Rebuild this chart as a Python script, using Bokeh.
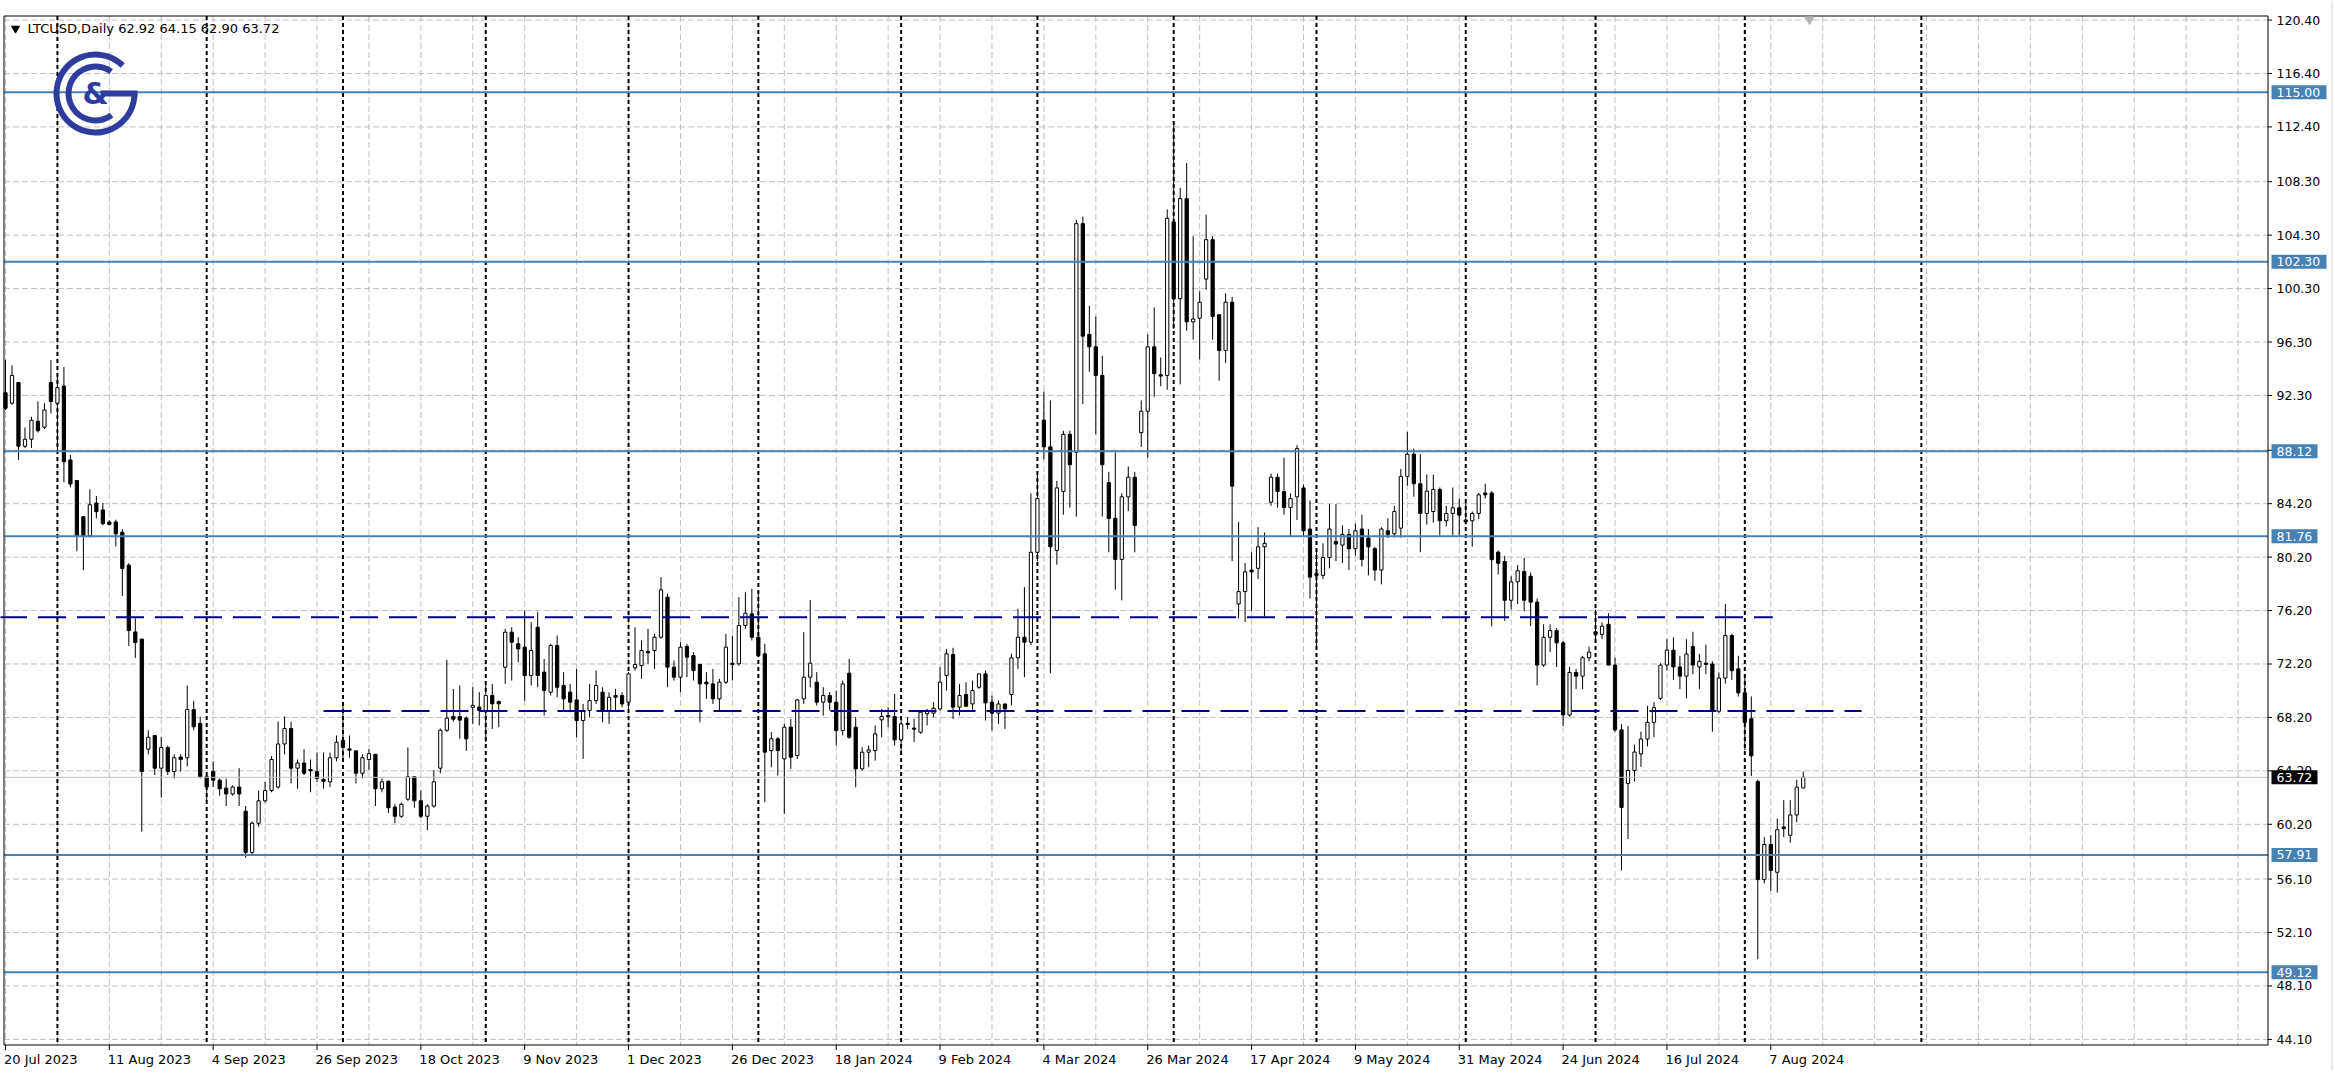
import datetime as dt
from bokeh.plotting import figure
from bokeh.models import Range1d, ColumnDataSource
from bokeh.core.properties import value
from bokeh.embed import file_html
from bokeh.resources import INLINE

# ---------------- data (daily bars, weekdays only) ----------------
opens = [92.50, 91.72, 93.27, 88.50, 89.02, 90.38, 89.92, 93.27, 91.72, 93.00,
         87.47, 85.93, 83.22, 81.80, 84.25, 83.73, 82.83, 82.83, 82.06, 79.60,
         74.60, 74.07, 65.82, 66.85, 64.40, 65.95, 64.15, 65.23, 65.18, 68.79,
         67.75, 63.76, 64.15, 63.50, 62.91, 62.47, 62.99, 61.18, 58.09, 60.28,
         61.96, 62.73, 62.99, 66.21, 67.37, 64.40, 64.79, 64.30, 64.15, 63.57,
         63.38, 65.18, 66.47, 65.85, 65.70, 64.02, 65.05, 65.44, 62.86, 63.42,
         61.49, 60.80, 62.08, 63.76, 61.96, 60.80, 61.57, 64.40, 67.24, 68.27,
         68.27, 68.14, 68.95, 68.97, 68.72, 69.84, 69.39, 71.96, 74.58, 73.71,
         73.46, 71.34, 74.95, 71.59, 70.09, 73.58, 70.59, 70.09, 69.51, 67.97,
         68.72, 69.46, 70.09, 68.72, 69.84, 69.84, 69.34, 71.91, 72.08, 73.14,
         73.21, 74.20, 77.20, 71.96, 71.21, 73.51, 72.83, 72.16, 70.84, 70.71,
         69.59, 70.84, 72.26, 72.21, 75.08, 75.95, 74.20, 72.96, 65.72, 66.60,
         65.10, 67.47, 65.35, 69.59, 71.21, 70.84, 69.34, 69.84, 69.34, 67.22,
         71.51, 67.47, 64.35, 65.60, 65.72, 68.02, 68.34, 68.27, 66.52, 67.77,
         67.40, 67.09, 68.47, 68.52, 68.84, 71.34, 72.91, 68.97, 69.91, 69.21,
         70.46, 71.46, 69.34, 68.52, 69.21, 69.91, 72.66, 74.20, 73.83, 80.56,
         90.46, 88.45, 80.70, 85.11, 89.39, 88.05, 105.16, 96.87, 95.94, 93.80,
         85.78, 83.10, 80.03, 84.71, 86.18, 89.52, 91.12, 95.94, 93.85, 93.80,
         105.29, 99.54, 107.03, 97.81, 98.08, 101.01, 103.96, 98.34, 95.67, 99.28,
         76.69, 77.62, 79.23, 79.36, 80.97, 84.31, 86.18, 85.11, 83.91, 84.71,
         85.38, 82.30, 78.96, 78.83, 80.17, 81.37, 81.10, 81.90, 80.83, 82.30,
         81.63, 80.83, 79.23, 82.17, 81.95, 82.37, 86.24, 87.90, 85.69, 83.47,
         83.61, 85.27, 82.92, 83.47, 83.89, 82.98, 82.92, 83.47, 85.00, 85.00,
         80.57, 79.87, 76.97, 78.35, 79.13, 78.77, 76.83, 72.12, 74.20, 74.70,
         73.78, 68.38, 71.57, 71.29, 72.67, 74.61, 74.42, 75.17, 72.12, 67.27,
         63.26, 64.23, 65.47, 66.58, 67.83, 69.63, 72.12, 73.23, 71.98, 71.29,
         73.50, 71.98, 72.26, 72.20, 68.66, 71.15, 74.33, 71.84, 70.04, 68.10,
         63.40, 56.06, 58.69, 56.61, 60.00, 59.38, 60.90, 62.92]
highs = [94.95, 94.56, 93.30, 89.90, 90.70, 91.85, 91.72, 94.95, 93.90, 94.43,
         87.86, 85.93, 83.22, 85.28, 84.77, 84.25, 82.96, 83.00, 82.30, 79.74,
         75.62, 74.07, 67.24, 66.85, 66.72, 66.08, 65.44, 65.44, 70.59, 69.43,
         68.27, 63.89, 64.92, 63.63, 63.63, 63.12, 64.40, 61.57, 60.41, 62.73,
         63.38, 65.31, 67.89, 68.27, 67.89, 65.05, 65.82, 65.05, 65.57, 65.57,
         65.57, 66.85, 69.05, 66.85, 65.70, 65.44, 65.82, 65.44, 63.63, 63.50,
         61.70, 61.83, 65.95, 63.76, 62.73, 61.70, 64.27, 67.37, 72.52, 70.33,
         70.59, 68.27, 70.46, 70.09, 70.71, 70.71, 69.46, 74.83, 74.95, 74.20,
         76.20, 75.33, 76.08, 72.58, 73.71, 74.33, 71.59, 70.71, 71.83, 69.21,
         70.71, 71.71, 70.46, 70.09, 70.34, 70.09, 71.59, 74.95, 73.96, 74.83,
         74.45, 78.70, 77.45, 72.46, 73.83, 73.71, 73.08, 72.21, 71.59, 71.83,
         71.09, 74.45, 74.33, 77.20, 77.57, 77.82, 77.70, 73.71, 67.10, 66.72,
         67.72, 68.09, 69.59, 74.58, 76.98, 71.59, 70.46, 70.09, 70.21, 70.96,
         72.58, 68.22, 65.97, 66.10, 67.60, 68.84, 68.97, 69.96, 68.09, 68.22,
         68.09, 68.72, 68.84, 69.34, 71.96, 73.33, 73.41, 70.71, 70.84, 70.96,
         71.46, 71.71, 69.84, 69.46, 69.21, 72.96, 76.33, 77.95, 84.98, 86.45,
         92.60, 91.93, 85.91, 89.66, 89.66, 105.43, 105.69, 99.01, 98.21, 95.27,
         86.58, 88.05, 84.98, 86.98, 86.58, 91.93, 96.87, 98.88, 95.14, 106.23,
         112.78, 107.83, 109.70, 104.22, 100.08, 105.83, 104.22, 98.34, 99.94, 99.68,
         82.84, 79.76, 80.56, 82.44, 82.04, 86.45, 86.45, 87.65, 84.98, 88.58,
         85.64, 84.44, 80.83, 81.23, 84.17, 84.17, 82.57, 82.30, 82.71, 83.37,
         82.30, 80.97, 82.44, 83.10, 84.03, 86.80, 89.57, 88.32, 87.90, 86.38,
         86.38, 85.41, 84.03, 85.41, 84.58, 84.30, 83.61, 85.00, 85.69, 85.14,
         80.70, 80.29, 78.77, 79.60, 80.15, 79.04, 77.10, 75.17, 75.17, 74.89,
         73.92, 71.98, 71.84, 72.81, 73.50, 76.27, 75.30, 76.00, 72.67, 67.69,
         67.55, 66.17, 67.13, 69.07, 69.35, 72.26, 74.06, 74.20, 72.81, 74.06,
         74.61, 72.95, 73.64, 72.40, 71.57, 76.69, 74.47, 72.81, 71.43, 69.77,
         63.54, 59.24, 59.38, 60.63, 62.01, 62.01, 63.54, 64.15]
lows = [91.20, 91.60, 87.47, 88.37, 88.37, 89.53, 89.79, 90.95, 88.10, 85.80,
        85.41, 80.64, 79.22, 81.67, 83.09, 82.58, 82.58, 81.00, 77.30, 73.55,
        72.65, 59.64, 65.44, 63.89, 62.20, 63.89, 63.63, 64.15, 64.53, 67.24,
        63.63, 61.83, 62.99, 62.34, 61.57, 62.34, 61.57, 57.70, 57.96, 60.02,
        61.83, 62.60, 62.86, 65.44, 63.25, 62.86, 63.89, 62.60, 63.38, 62.86,
        62.99, 64.92, 65.05, 65.18, 63.25, 63.63, 64.27, 61.57, 62.60, 61.05,
        60.28, 60.67, 61.96, 61.44, 60.67, 59.77, 61.44, 64.02, 67.11, 67.89,
        66.60, 65.70, 67.72, 67.60, 66.35, 67.34, 67.47, 70.71, 70.96, 72.33,
        69.46, 70.59, 70.46, 68.34, 69.84, 69.71, 68.72, 68.59, 66.72, 65.10,
        68.22, 69.21, 67.84, 67.72, 68.72, 68.97, 68.84, 71.71, 71.09, 72.21,
        71.83, 74.08, 70.46, 70.96, 70.09, 71.21, 70.96, 67.84, 69.59, 69.21,
        68.72, 70.71, 70.96, 72.08, 74.83, 73.96, 72.71, 61.85, 64.47, 63.85,
        60.98, 64.35, 65.10, 69.21, 70.46, 69.09, 68.34, 68.72, 66.10, 66.85,
        66.60, 62.98, 64.23, 64.47, 64.97, 66.72, 67.47, 66.10, 65.47, 67.34,
        66.35, 66.97, 67.60, 68.22, 68.72, 70.21, 68.09, 68.34, 68.97, 68.72,
        70.34, 67.97, 67.22, 67.72, 67.34, 69.09, 71.83, 71.21, 73.62, 79.90,
        87.52, 71.50, 79.63, 83.37, 83.91, 83.24, 91.66, 94.07, 89.39, 83.24,
        80.56, 77.76, 76.96, 83.64, 80.56, 88.45, 87.65, 92.20, 92.99, 92.73,
        97.27, 93.13, 97.14, 96.47, 95.00, 100.21, 96.47, 93.40, 94.73, 79.90,
        75.62, 75.35, 76.16, 78.56, 75.75, 84.04, 83.91, 83.37, 81.77, 82.97,
        81.77, 77.09, 73.50, 78.56, 79.36, 79.90, 79.76, 79.23, 80.30, 79.50,
        78.83, 78.43, 78.16, 81.63, 81.67, 81.67, 85.55, 84.72, 80.57, 82.64,
        82.78, 81.81, 82.50, 81.81, 81.81, 82.64, 80.98, 83.06, 84.58, 75.03,
        78.90, 75.44, 76.27, 76.69, 76.13, 75.03, 70.60, 71.98, 73.09, 71.98,
        67.55, 68.24, 70.32, 70.32, 72.40, 73.92, 74.06, 72.12, 67.13, 56.75,
        59.10, 63.40, 64.50, 66.03, 66.72, 69.49, 71.70, 71.01, 70.32, 69.63,
        71.43, 70.32, 71.43, 67.13, 68.52, 70.73, 71.01, 69.77, 65.75, 63.81,
        50.10, 55.78, 55.23, 55.09, 59.24, 58.83, 60.35, 62.90]
closes = [91.34, 93.79, 88.50, 89.02, 90.44, 89.66, 91.21, 91.85, 92.88, 87.34,
          85.67, 81.80, 81.80, 84.12, 83.60, 82.70, 82.65, 81.93, 79.35, 74.70,
          73.81, 64.15, 66.72, 64.40, 65.95, 64.15, 65.18, 65.05, 68.79, 67.50,
          63.76, 62.99, 63.50, 62.86, 62.47, 62.99, 62.47, 58.09, 60.28, 61.96,
          62.73, 65.05, 66.21, 67.37, 64.40, 64.79, 64.02, 64.20, 63.63, 63.42,
          65.18, 66.34, 65.95, 65.75, 64.02, 65.18, 65.49, 62.86, 63.38, 61.44,
          60.80, 61.70, 63.76, 61.96, 60.80, 61.57, 63.38, 67.24, 68.14, 68.07,
          68.00, 66.60, 69.10, 68.72, 69.84, 69.22, 69.22, 74.58, 73.83, 73.33,
          71.34, 73.21, 71.34, 70.21, 73.58, 70.46, 69.59, 69.34, 67.97, 68.72,
          69.46, 70.59, 68.72, 69.71, 69.71, 69.21, 71.46, 72.16, 73.21, 73.04,
          74.20, 77.75, 71.96, 71.21, 73.46, 72.71, 71.71, 70.71, 70.71, 69.59,
          70.84, 73.46, 72.16, 75.08, 76.00, 74.20, 72.83, 65.60, 66.60, 65.72,
          67.47, 65.22, 69.51, 71.21, 72.26, 69.34, 69.84, 69.34, 67.22, 70.71,
          66.72, 64.35, 65.60, 65.77, 66.97, 68.27, 68.27, 66.52, 67.72, 67.67,
          67.32, 68.59, 68.72, 68.89, 70.84, 72.96, 68.97, 69.84, 69.04, 70.21,
          71.46, 69.29, 68.52, 69.21, 68.84, 72.66, 74.20, 73.83, 80.56, 84.58,
          88.45, 80.97, 85.38, 89.39, 87.12, 105.16, 96.74, 95.94, 93.80, 87.12,
          83.10, 80.03, 84.71, 86.18, 82.57, 91.12, 95.94, 93.93, 93.75, 105.56,
          99.54, 107.03, 97.81, 98.02, 99.28, 103.96, 98.21, 95.67, 99.28, 85.51,
          77.62, 79.10, 79.10, 80.97, 81.23, 86.18, 85.11, 83.91, 84.58, 88.32,
          82.17, 78.70, 78.83, 80.17, 82.30, 81.18, 81.90, 80.83, 82.17, 80.03,
          80.97, 79.23, 82.30, 81.90, 83.61, 86.24, 87.90, 85.69, 83.47, 85.14,
          85.27, 82.92, 83.47, 83.89, 83.34, 82.84, 83.47, 84.86, 84.86, 80.01,
          79.74, 76.97, 78.35, 79.18, 76.97, 76.83, 72.12, 74.20, 74.70, 73.78,
          68.38, 71.57, 71.29, 72.67, 73.09, 74.42, 75.03, 72.12, 67.27, 61.46,
          64.23, 65.61, 66.58, 67.83, 68.93, 72.12, 73.23, 71.98, 71.29, 72.95,
          72.12, 72.40, 72.17, 68.66, 71.15, 74.33, 71.70, 70.04, 67.83, 65.33,
          56.06, 58.69, 56.75, 59.79, 59.88, 60.90, 62.98, 63.72]

first_day = dt.date(2023, 7, 20)
skipped_days = [dt.date(2023, 12, 25), dt.date(2024, 1, 1)]

date_labels = ["20 Jul 2023", "11 Aug 2023", "4 Sep 2023", "26 Sep 2023", "18 Oct 2023",
               "9 Nov 2023", "1 Dec 2023", "26 Dec 2023", "18 Jan 2024", "9 Feb 2024",
               "4 Mar 2024", "26 Mar 2024", "17 Apr 2024", "9 May 2024", "31 May 2024",
               "24 Jun 2024", "16 Jul 2024", "7 Aug 2024"]
label_step = 16

price_ticks = [120.40, 116.40, 112.40, 108.30, 104.30, 100.30, 96.30, 92.30, 88.20,
               84.20, 80.20, 76.20, 72.20, 68.20, 64.20, 60.20, 56.10, 52.10, 48.10, 44.10]
price_tick_labels = ["120.40", "116.40", "112.40", "108.30", "104.30", "100.30", "96.30",
                     "92.30", "", "84.20", "80.20", "76.20", "72.20", "68.20", "64.20",
                     "60.20", "56.10", "52.10", "48.10", "44.10"]

levels = [115.00, 102.30, 88.12, 81.76, 57.91, 49.12]
level_labels = ["115.00", "102.30", "88.12", "81.76", "57.91", "49.12"]
dash_levels = [75.69, 68.69]
dash_from = [-1.0, 49.0]
dash_to = [272.3, 286.0]
vertical_marks = [295.2]

header = "LTCUSD,Daily  62.92 64.15 62.90 63.72"

# ---------------- calendar of bars ----------------
bar_dates = []
d = first_day
while len(bar_dates) < 400:
    if d.weekday() < 5 and d not in skipped_days:
        bar_dates.append(d)
    d += dt.timedelta(days=1)

n = len(closes)
idx = list(range(n))
month_starts = [i for i in range(1, n)
                if bar_dates[i].month != bar_dates[i - 1].month]

# ---------------- geometry (pixels of the 2335x1089 canvas) ----------------
W, H = 2335, 1089
FL, FR, FT, FB = 3.5, 2267.5, 15.5, 1044.5
BAR_PX = 6.49
BAR0_PX = 5.0
PX_PER_UNIT = 13.36
REF_PRICE, REF_PY = 88.12, 450.8


def px_x(px):
    return (px - BAR0_PX) / BAR_PX


def px_y(py):
    return REF_PRICE - (py - REF_PY) / PX_PER_UNIT


p = figure(width=W, height=H, output_backend="svg", toolbar_location=None,
           x_range=Range1d(px_x(0), px_x(W)), y_range=Range1d(px_y(H), px_y(0)),
           x_axis_location=None, y_axis_location=None,
           min_border_left=0, min_border_top=0, min_border_right=0, min_border_bottom=0,
           background_fill_color="white", border_fill_color="white")
p.outline_line_color = None
p.grid.visible = False

FONT = "DejaVu Sans"
xl, xr = px_x(FL), px_x(FR)
yt, yb = px_y(FT), px_y(FB)

# grid
p.segment(x0=[xl] * len(price_ticks), y0=price_ticks, x1=[xr] * len(price_ticks), y1=price_ticks,
          line_color="#c0c0c0", line_width=1, line_dash="6 3")
vg = [b for b in range(0, 400, 8) if BAR0_PX + b * BAR_PX < FR - 2]
p.segment(x0=vg, y0=[yt] * len(vg), x1=vg, y1=[yb] * len(vg),
          line_color="#c0c0c0", line_width=1, line_dash="6 3")

# period separators and marks
seps = month_starts + vertical_marks
p.segment(x0=seps, y0=[yt] * len(seps), x1=seps, y1=[yb] * len(seps),
          line_color="black", line_width=2, line_dash="4 3")

# candles
up_i = [i for i in idx if closes[i] >= opens[i]]
dn_i = [i for i in idx if closes[i] < opens[i]]
wick = ColumnDataSource(dict(x=idx, h=highs, l=lows))
p.segment(x0="x", y0="h", x1="x", y1="l", source=wick, line_color="black", line_width=1)
up = ColumnDataSource(dict(x=up_i, top=[closes[i] for i in up_i], bot=[opens[i] for i in up_i]))
dn = ColumnDataSource(dict(x=dn_i, top=[opens[i] for i in dn_i], bot=[closes[i] for i in dn_i]))
p.vbar(x="x", top="top", bottom="bot", width=0.5, source=up,
       fill_color="white", line_color="black", line_width=1)
p.vbar(x="x", top="top", bottom="bot", width=0.5, source=dn,
       fill_color="black", line_color="black", line_width=1)

# horizontal levels
p.segment(x0=[xl] * len(levels), y0=levels, x1=[xr] * len(levels), y1=levels,
          line_color="#4682B4", line_width=2)
p.segment(x0=dash_from, y0=dash_levels, x1=dash_to, y1=dash_levels,
          line_color="#00008B", line_width=2, line_dash="28 11")
p.segment(x0=[xl], y0=[closes[-1]], x1=[xr], y1=[closes[-1]], line_color="#c0c0c0", line_width=1)

# chart frame
p.segment(x0=[xl, xl, xl, xr], y0=[yt, yb, yt, yt], x1=[xr, xr, xl, xr], y1=[yt, yb, yb, yb],
          line_color="black", line_width=1)

# right price scale
p.segment(x0=[xr] * len(price_ticks), y0=price_ticks, x1=[px_x(FR + 4)] * len(price_ticks),
          y1=price_ticks, line_color="black", line_width=1)
p.text(x=[px_x(2276)] * len(price_ticks), y=price_ticks, text=price_tick_labels,
       text_align="left", text_baseline="middle", text_color="black",
       text_font=value(FONT), text_font_size="12.5px")

box_h = 7.0 / PX_PER_UNIT
box_r = [px_x(2271 + (55 if len(s) > 5 else 46)) for s in level_labels]
p.quad(left=[px_x(2271)] * len(levels), right=box_r,
       top=[lv + box_h for lv in levels], bottom=[lv - box_h for lv in levels],
       fill_color="#4682B4", line_color=None)
p.text(x=[px_x(2276)] * len(levels), y=levels, text=level_labels,
       text_align="left", text_baseline="middle", text_color="white",
       text_font=value(FONT), text_font_size="12.5px")
last_label = f"{closes[-1]:.2f}"
p.quad(left=[px_x(2271)], right=[px_x(2317)], top=[closes[-1] + box_h],
       bottom=[closes[-1] - box_h], fill_color="black", line_color=None)
p.text(x=[px_x(2276)], y=[closes[-1]], text=[last_label], text_align="left",
       text_baseline="middle", text_color="white", text_font=value(FONT),
       text_font_size="12.5px")

# bottom date scale
label_ticks = [i * label_step for i in range(len(date_labels))]
p.segment(x0=label_ticks, y0=[yb] * len(label_ticks), x1=label_ticks,
          y1=[px_y(FB + 5)] * len(label_ticks), line_color="black", line_width=1)
p.text(x=[t - 1.5 / BAR_PX for t in label_ticks], y=[px_y(1059)] * len(label_ticks),
       text=date_labels, text_align="left", text_baseline="middle", text_color="black",
       text_font=value(FONT), text_font_size="13px")

# header
p.scatter(x=[px_x(15)], y=[px_y(28)], marker="inverted_triangle", size=8,
          fill_color="black", line_color="black")
p.text(x=[px_x(27)], y=[px_y(28)], text=[header], text_align="left", text_baseline="middle",
       text_font=value(FONT), text_font_size="13px", text_color="black")

# chart shift marker and window edge
p.scatter(x=[px_x(1809)], y=[px_y(19)], marker="inverted_triangle", size=9,
          fill_color="#b4b4b4", line_color="#b4b4b4")
p.segment(x0=[px_x(2331.5)], y0=[px_y(0)], x1=[px_x(2331.5)], y1=[px_y(1070)],
          line_color="#d4d4d4", line_width=1)

# logo
LOGO = "#2f3c9e"
cx, cy = px_x(95), px_y(93)
p.annular_wedge(x=cx, y=cy, inner_radius=36, outer_radius=42, inner_radius_units="screen",
                outer_radius_units="screen", start_angle=0.80, end_angle=6.283,
                fill_color=LOGO, line_color=None)
p.annular_wedge(x=cx, y=cy, inner_radius=24, outer_radius=30, inner_radius_units="screen",
                outer_radius_units="screen", start_angle=0.95, end_angle=5.35,
                fill_color=LOGO, line_color=None)
p.quad(left=[px_x(100)], right=[px_x(137)], top=[px_y(90)], bottom=[px_y(96)],
       fill_color=LOGO, line_color=None)
p.text(x=[cx], y=[cy], text=["&"], text_align="center", text_baseline="middle",
       text_font=value(FONT), text_font_size="30px", text_font_style="bold", text_color=LOGO)

open("out.html", "w").write(file_html(p, INLINE))
